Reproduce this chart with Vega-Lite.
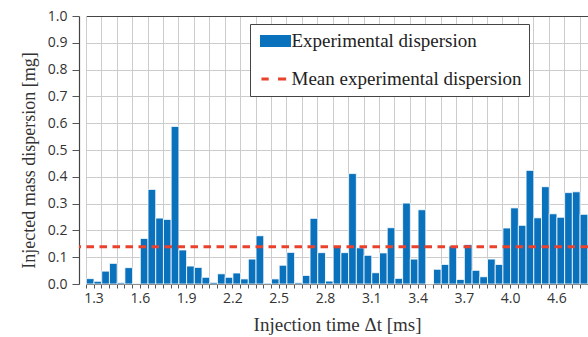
{
  "$schema": "https://vega.github.io/schema/vega-lite/v6.json",
  "width": 509,
  "height": 268,
  "autosize": {"type": "none"},
  "padding": {"left": 79, "top": 16, "right": 0, "bottom": 53},
  "background": "white",
  "config": {
    "view": {"stroke": null},
    "axis": {
      "labelFont": "Open Sans",
      "labelFontSize": 14,
      "labelColor": "#333333",
      "titleFont": "Liberation Serif",
      "titleFontSize": 18,
      "titleFontWeight": "normal",
      "titleColor": "#333333",
      "domainColor": "#444444",
      "tickColor": "#555555"
    }
  },
  "datasets": {
    "dispersion": [
      {"s": "Experimental dispersion", "t": 1.3, "v": 0.020}, {"s": "Experimental dispersion", "t": 1.35, "v": 0.010},
      {"s": "Experimental dispersion", "t": 1.4, "v": 0.048}, {"s": "Experimental dispersion", "t": 1.45, "v": 0.077},
      {"s": "Experimental dispersion", "t": 1.5, "v": 0.005}, {"s": "Experimental dispersion", "t": 1.55, "v": 0.061},
      {"s": "Experimental dispersion", "t": 1.6, "v": 0.002}, {"s": "Experimental dispersion", "t": 1.65, "v": 0.170},
      {"s": "Experimental dispersion", "t": 1.7, "v": 0.353}, {"s": "Experimental dispersion", "t": 1.75, "v": 0.246},
      {"s": "Experimental dispersion", "t": 1.8, "v": 0.241}, {"s": "Experimental dispersion", "t": 1.85, "v": 0.588},
      {"s": "Experimental dispersion", "t": 1.9, "v": 0.127}, {"s": "Experimental dispersion", "t": 1.95, "v": 0.067},
      {"s": "Experimental dispersion", "t": 2.0, "v": 0.062}, {"s": "Experimental dispersion", "t": 2.05, "v": 0.025},
      {"s": "Experimental dispersion", "t": 2.1, "v": 0.006}, {"s": "Experimental dispersion", "t": 2.15, "v": 0.038},
      {"s": "Experimental dispersion", "t": 2.2, "v": 0.025}, {"s": "Experimental dispersion", "t": 2.25, "v": 0.041},
      {"s": "Experimental dispersion", "t": 2.3, "v": 0.019}, {"s": "Experimental dispersion", "t": 2.35, "v": 0.093},
      {"s": "Experimental dispersion", "t": 2.4, "v": 0.180}, {"s": "Experimental dispersion", "t": 2.45, "v": 0.003},
      {"s": "Experimental dispersion", "t": 2.5, "v": 0.019}, {"s": "Experimental dispersion", "t": 2.55, "v": 0.070},
      {"s": "Experimental dispersion", "t": 2.6, "v": 0.118}, {"s": "Experimental dispersion", "t": 2.65, "v": 0.005},
      {"s": "Experimental dispersion", "t": 2.7, "v": 0.032}, {"s": "Experimental dispersion", "t": 2.75, "v": 0.245},
      {"s": "Experimental dispersion", "t": 2.8, "v": 0.117}, {"s": "Experimental dispersion", "t": 2.85, "v": 0.011},
      {"s": "Experimental dispersion", "t": 2.9, "v": 0.139}, {"s": "Experimental dispersion", "t": 2.95, "v": 0.117},
      {"s": "Experimental dispersion", "t": 3.0, "v": 0.412}, {"s": "Experimental dispersion", "t": 3.05, "v": 0.135},
      {"s": "Experimental dispersion", "t": 3.1, "v": 0.107}, {"s": "Experimental dispersion", "t": 3.15, "v": 0.042},
      {"s": "Experimental dispersion", "t": 3.2, "v": 0.116}, {"s": "Experimental dispersion", "t": 3.25, "v": 0.210},
      {"s": "Experimental dispersion", "t": 3.3, "v": 0.021}, {"s": "Experimental dispersion", "t": 3.35, "v": 0.302},
      {"s": "Experimental dispersion", "t": 3.4, "v": 0.093}, {"s": "Experimental dispersion", "t": 3.45, "v": 0.277},
      {"s": "Experimental dispersion", "t": 3.5, "v": 0.000}, {"s": "Experimental dispersion", "t": 3.55, "v": 0.055},
      {"s": "Experimental dispersion", "t": 3.6, "v": 0.073}, {"s": "Experimental dispersion", "t": 3.65, "v": 0.142},
      {"s": "Experimental dispersion", "t": 3.7, "v": 0.017}, {"s": "Experimental dispersion", "t": 3.75, "v": 0.147},
      {"s": "Experimental dispersion", "t": 3.8, "v": 0.051}, {"s": "Experimental dispersion", "t": 3.85, "v": 0.027},
      {"s": "Experimental dispersion", "t": 3.9, "v": 0.093}, {"s": "Experimental dispersion", "t": 3.95, "v": 0.073},
      {"s": "Experimental dispersion", "t": 4.0, "v": 0.209}, {"s": "Experimental dispersion", "t": 4.1, "v": 0.284},
      {"s": "Experimental dispersion", "t": 4.2, "v": 0.219}, {"s": "Experimental dispersion", "t": 4.3, "v": 0.424},
      {"s": "Experimental dispersion", "t": 4.4, "v": 0.247}, {"s": "Experimental dispersion", "t": 4.5, "v": 0.363},
      {"s": "Experimental dispersion", "t": 4.6, "v": 0.262}, {"s": "Experimental dispersion", "t": 4.7, "v": 0.249},
      {"s": "Experimental dispersion", "t": 4.8, "v": 0.341}, {"s": "Experimental dispersion", "t": 4.9, "v": 0.344},
      {"s": "Experimental dispersion", "t": 5.0, "v": 0.260}
    ],
    "mean": [
      {"s": "Mean experimental dispersion", "v": 0.139}
    ]
  },
  "encoding": {
    "y": {
      "field": "v",
      "type": "quantitative",
      "scale": {"domain": [0, 1], "nice": false},
      "axis": {
        "title": "Injected mass dispersion [mg]",
        "values": [0, 0.1, 0.2, 0.3, 0.4, 0.5, 0.6, 0.7, 0.8, 0.9, 1.0],
        "labelOverlap": false,
        "labelFlush": false,
        "format": ".1f",
        "tickSize": 7,
        "labelPadding": 5,
        "domainWidth": 1.2,
        "grid": true,
        "gridWidth": 1.1,
        "gridColor": {
          "condition": {"test": "datum.value === 0 || datum.value === 1", "value": "#444444"},
          "value": "#cccccc"
        },
        "titlePadding": 9,
        "titleY": 144
      }
    },
    "color": {
      "field": "s",
      "type": "nominal",
      "scale": {
        "domain": ["Experimental dispersion", "Mean experimental dispersion"],
        "range": ["#0a71bc", "#e9412b"]
      },
      "legend": {
        "title": null,
        "orient": "none",
        "legendX": 171,
        "legendY": 8,
        "direction": "vertical",
        "fillColor": "white",
        "strokeColor": "#444444",
        "cornerRadius": 0,
        "padding": 7,
        "rowPadding": 17,
        "symbolSize": 289,
        "symbolOffset": 8.5,
        "labelOffset": 6,
        "labelLimit": 400,
        "labelFont": "Liberation Serif",
        "labelFontSize": 19,
        "labelColor": "#222222",
        "encode": {
          "symbols": {
            "update": {
              "shape": {"signal": "datum.value === 'Experimental dispersion' ? 'M-1.65,-0.53H1.65V0.53H-1.65Z' : 'M-1.65,0H-0.8M0.3,0H1.25'"},
              "fill": {"signal": "datum.value === 'Experimental dispersion' ? '#0a71bc' : 'transparent'"},
              "stroke": {"signal": "datum.value === 'Experimental dispersion' ? 'transparent' : '#e9412b'"},
              "strokeWidth": {"value": 3}
            }
          }
        }
      }
    }
  },
  "layer": [
    {
      "data": {"name": "dispersion"},
      "mark": {"type": "bar", "stroke": "white", "strokeWidth": 1, "strokeOpacity": 0.8},
      "encoding": {
        "x": {
          "field": "t",
          "type": "ordinal",
          "scale": {"type": "band", "range": [7.3, 508.8], "paddingInner": 0, "paddingOuter": 0},
          "axis": {
            "title": "Injection time Δt [ms]",
            "titleFontSize": 19,
            "bandPosition": 0,
            "domain": false,
            "tickSize": 4,
            "tickWidth": 1,
            "labelOffset": 3.86,
            "labelPadding": 3,
            "labelAngle": 0,
            "labelOverlap": false,
            "labelExpr": "indexof([1.3, 1.6, 1.9, 2.2, 2.5, 2.8, 3.1, 3.4, 3.7, 4.0, 4.6], datum.value) >= 0 ? format(datum.value, '.1f') : ''",
            "grid": true,
            "gridWidth": 1,
            "gridColor": {
              "condition": {
                "test": "indexof([1.3, 1.4, 1.5, 1.6, 1.7, 1.8, 1.9, 2.0, 2.1, 2.2, 2.3, 2.4, 2.5, 2.6, 2.7, 2.8, 2.9, 3.0, 3.1, 3.2, 3.3, 3.4, 3.5, 3.6, 3.7, 3.8, 3.9, 4.0, 4.2, 4.4, 4.6, 4.8, 5.0], datum.value) >= 0",
                "value": "#cccccc"
              },
              "value": "transparent"
            },
            "titlePadding": 10
          }
        }
      }
    },
    {
      "data": {"name": "mean"},
      "mark": {"type": "rule", "strokeWidth": 3, "strokeDash": [7.5, 5.5]},
      "encoding": {}
    }
  ]
}
